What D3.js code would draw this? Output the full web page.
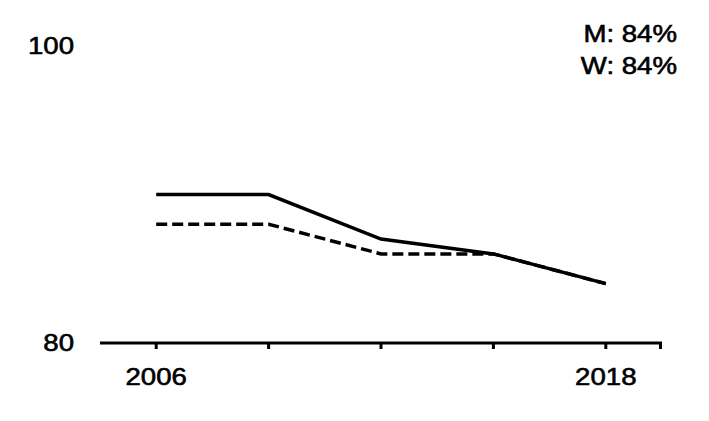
<!DOCTYPE html>
<html>
<head>
<meta charset="utf-8">
<script src="https://cdn.jsdelivr.net/npm/d3@7"></script>
<style>
  body { margin: 0; background: #fff; }
  text { font-family: "Liberation Sans", Arial, sans-serif; fill: #000; font-size: 24px;
         stroke: #000; stroke-width: 0.6px; }
</style>
</head>
<body>
<div id="chart"></div>
<script>
var years = ["2006", "2009", "2012", "2015", "2018"];
var men = [90, 90, 87, 86, 84];
var women = [88, 88, 86, 86, 84];
var yTicks = [80, 100];
var xLabels = ["2006", "2018"];
var notes = ["M: 84%", "W: 84%"];

var width = 709, height = 421;
var mLeft = 100, mRight = 662, mTop = 46, mBottom = 343;
var stretch = 1.15; // the reference text is a bit wider than Arial

var svg = d3.select("#chart").append("svg")
    .attr("width", width)
    .attr("height", height);

var x = d3.scaleBand().domain(years).range([mLeft, mRight]);
var y = d3.scaleLinear().domain([80, 100]).range([mBottom, mTop]);

function cx(d) { return x(d) + x.bandwidth() / 2; }

function label(px, py, txt, anchor) {
    svg.append("text")
        .attr("transform", "translate(" + px + "," + py + ") scale(" + stretch + ",1)")
        .attr("text-anchor", anchor)
        .text(txt);
}

// axis line and ticks
svg.append("line")
    .attr("x1", mLeft).attr("x2", mRight)
    .attr("y1", mBottom).attr("y2", mBottom)
    .attr("stroke", "#000").attr("stroke-width", 3);

svg.selectAll(".tick")
    .data(years)
    .enter().append("line")
    .attr("x1", cx).attr("x2", cx)
    .attr("y1", mBottom).attr("y2", mBottom + 6)
    .attr("stroke", "#000").attr("stroke-width", 3);

svg.append("line")
    .attr("x1", mRight - 1.5).attr("x2", mRight - 1.5)
    .attr("y1", mBottom).attr("y2", mBottom + 6)
    .attr("stroke", "#000").attr("stroke-width", 3);

// y labels
yTicks.forEach(function (d) {
    label(74, y(d) + 8, d, "end");
});

// x labels
xLabels.forEach(function (d) {
    label(cx(d), 385, d, "middle");
});

var line = d3.line()
    .x(function (d, i) { return cx(years[i]); })
    .y(function (d) { return y(d); });

svg.append("path")
    .datum(women)
    .attr("d", line)
    .attr("fill", "none")
    .attr("stroke", "#000")
    .attr("stroke-width", 3.5)
    .attr("stroke-dasharray", "11,5");

svg.append("path")
    .datum(men)
    .attr("d", line)
    .attr("fill", "none")
    .attr("stroke", "#000")
    .attr("stroke-width", 3.5);

notes.forEach(function (d, i) {
    label(677, 42 + i * 32, d, "end");
});
</script>
</body>
</html>
